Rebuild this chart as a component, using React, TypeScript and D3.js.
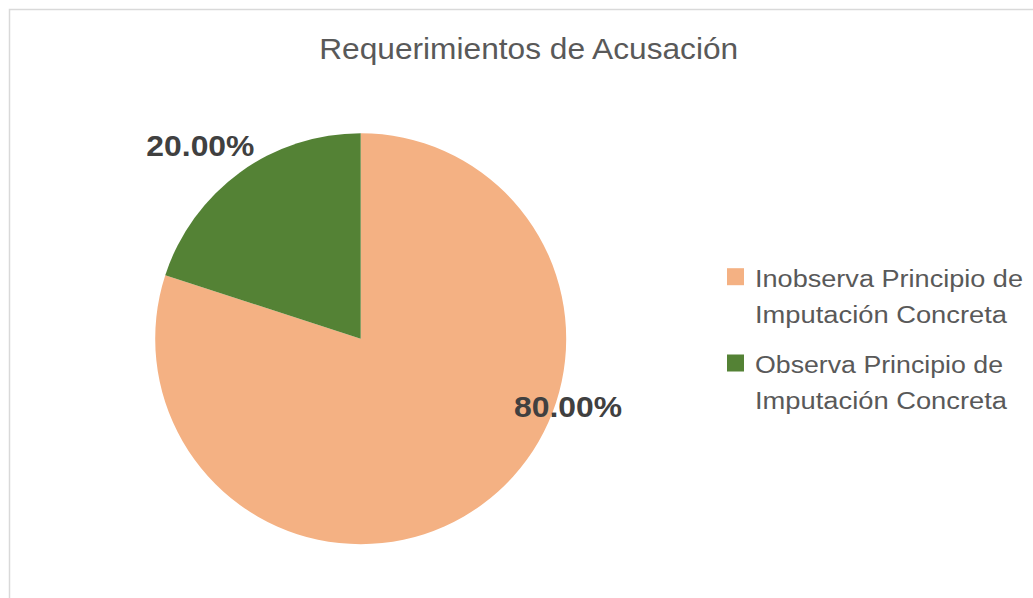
import React from "react";
import * as d3 from "d3";

const title = "Requerimientos de Acusación";
const categories = [
  ["Inobserva Principio de", "Imputación Concreta"],
  ["Observa Principio de", "Imputación Concreta"],
];
const values = [80, 20];
const colors = ["#F4B183", "#548235"];
const valueLabels = ["80.00%", "20.00%"];

export default function App() {
  const width = 1033;
  const height = 598;
  const cx = 360.7;
  const cy = 338.7;
  const radius = 205.5;

  const pie = d3.pie<number>().sort(null).value((d) => d);
  const arcs = pie(values);
  const arc = d3.arc<d3.PieArcDatum<number>>().innerRadius(0).outerRadius(radius);

  // Excel "best fit" label spots, as (angle in degrees, distance from centre)
  const labelSpots = [
    { angle: 108, r: 218 },
    { angle: 320.3, r: 251 },
  ];

  const legendLines = [
    [286.7, 322.7],
    [373, 409],
  ];
  const legendTextWidths = [
    [268, 252],
    [248, 252],
  ];

  return (
    <svg
      width={width}
      height={height}
      style={{ position: "absolute", left: 0, top: 0, background: "#fff" }}
    >
      <rect x={9.5} y={9.5} width={width + 10} height={height + 10} fill="#fff" stroke="#d9d9d9" strokeWidth={1.5} />

      <text
        x={528.7}
        y={58.5}
        textAnchor="middle"
        fill="#595959"
        fontFamily="'Liberation Sans', Arial, sans-serif"
        fontSize={29}
        textLength={419}
        lengthAdjust="spacingAndGlyphs"
      >
        {title}
      </text>

      <g transform={`translate(${cx},${cy})`}>
        {arcs.map((a, i) => (
          <path key={i} d={arc(a) || ""} fill={colors[i]} />
        ))}
        {arcs.map((a, i) => {
          const ang = (labelSpots[i].angle * Math.PI) / 180;
          const x = Math.sin(ang) * labelSpots[i].r;
          const y = -Math.cos(ang) * labelSpots[i].r;
          return (
            <text
              key={"l" + i}
              x={x}
              y={y}
              dy="0.36em"
              textAnchor="middle"
              fill="#404040"
              fontFamily="'Liberation Sans', Arial, sans-serif"
              fontWeight="bold"
              fontSize={30}
              textLength={108}
              lengthAdjust="spacingAndGlyphs"
            >
              {valueLabels[i]}
            </text>
          );
        })}
      </g>

      {categories.map((lines, i) => (
        <g key={"lg" + i}>
          <rect x={727} y={legendLines[i][0] - 18.5} width={17} height={17} fill={colors[i]} />
          {lines.map((t, j) => (
            <text
              key={j}
              x={755}
              y={legendLines[i][j]}
              fill="#595959"
              fontFamily="'Liberation Sans', Arial, sans-serif"
              fontSize={23}
              textLength={legendTextWidths[i][j]}
              lengthAdjust="spacingAndGlyphs"
            >
              {t}
            </text>
          ))}
        </g>
      ))}
    </svg>
  );
}
